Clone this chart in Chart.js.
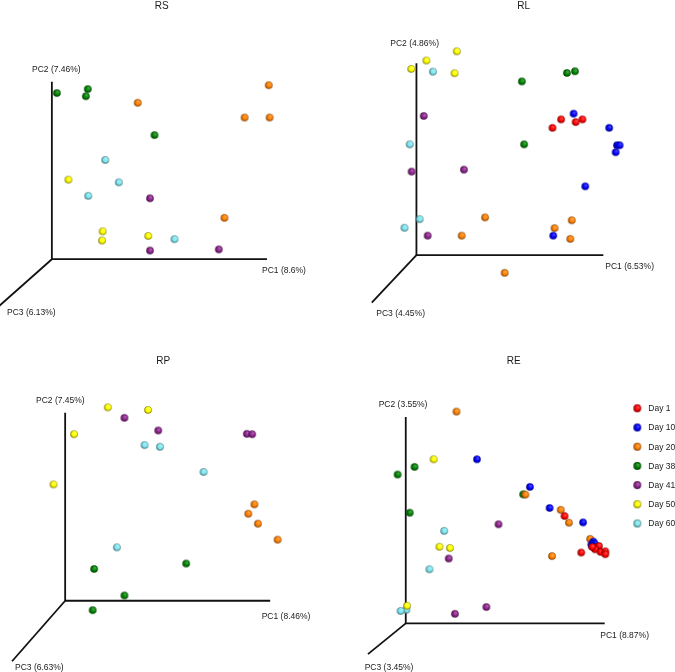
<!DOCTYPE html>
<html>
<head>
<meta charset="utf-8">
<title>PCoA – RS / RL / RP / RE</title>
<script src="https://cdn.jsdelivr.net/npm/chart.js@4"></script>
<style>
  html, body { margin: 0; padding: 0; background: #fff; }
  #wrap { position: relative; width: 675px; height: 672px; overflow: hidden; }
  .panel { position: absolute; }
  .panel canvas { display: block; }
</style>
</head>
<body>
<div id="wrap">
  <div class="panel" style="left:0;top:0;"><canvas id="cRS" width="337" height="336"></canvas></div>
  <div class="panel" style="left:337px;top:0;"><canvas id="cRL" width="338" height="336"></canvas></div>
  <div class="panel" style="left:0;top:336px;"><canvas id="cRP" width="337" height="336"></canvas></div>
  <div class="panel" style="left:337px;top:336px;"><canvas id="cRE" width="338" height="336"></canvas></div>
</div>
<script>
/* ─── Data (PC1 / PC2 projected, axis length = 100) ─────────────── */

const DAYS = ['Day 1', 'Day 10', 'Day 20', 'Day 38', 'Day 41', 'Day 50', 'Day 60'];
const DAY_COLORS = ['#ff0000', '#0000ff', '#ff7f00', '#008000', '#8b228b', '#ffff00', '#7fe6f0'];

const RS_LABELS = ['PC1 (8.6%)', 'PC2 (7.46%)', 'PC3 (6.13%)'];
const RS = {
  'Day 20': [[100.8, 98.0], [39.9, 88.1], [89.6, 79.8], [101.2, 79.8], [80.2, 23.3]],
  'Day 38': [[2.3, 93.6], [16.7, 95.8], [15.8, 91.8], [47.7, 69.9]],
  'Day 41': [[45.6, 34.3], [45.6, 4.9], [77.6, 5.5]],
  'Day 50': [[7.7, 44.8], [23.6, 15.7], [23.3, 10.5], [44.8, 13.1]],
  'Day 60': [[24.8, 55.9], [31.1, 43.3], [16.9, 35.7], [57.0, 11.3]],
};

const RL_LABELS = ['PC1 (6.53%)', 'PC2 (4.86%)', 'PC3 (4.45%)'];
const RL = {
  'Day 1':  [[77.4, 70.7], [72.8, 66.3], [85.2, 69.3], [88.8, 70.7]],
  'Day 10': [[84.1, 73.7], [103.1, 66.3], [107.3, 57.2], [108.7, 57.2], [106.6, 53.6], [90.3, 35.8], [73.2, 10.1]],
  'Day 20': [[36.7, 19.6], [83.1, 18.1], [73.9, 14.0], [24.2, 10.1], [82.3, 8.4], [47.2, -9.3]],
  'Day 38': [[56.4, 90.5], [80.5, 94.9], [84.8, 95.8], [57.6, 57.7]],
  'Day 41': [[3.9, 72.5], [-2.6, 43.5], [25.4, 44.5], [6.0, 10.1]],
  'Day 50': [[21.6, 106.2], [5.3, 101.4], [-2.8, 97.0], [20.4, 94.8]],
  'Day 60': [[8.8, 95.6], [-3.6, 57.7], [1.7, 18.7], [-6.4, 14.2]],
};

const RP_LABELS = ['PC1 (8.46%)', 'PC2 (7.45%)', 'PC3 (6.63%)'];
const RP = {
  'Day 20': [[92.3, 51.3], [89.3, 46.3], [94.0, 41.0], [103.6, 32.5]],
  'Day 38': [[14.1, 16.9], [59.0, 19.8], [28.9, 2.8], [13.4, -5.0]],
  'Day 41': [[28.9, 97.3], [45.4, 90.6], [88.6, 88.8], [91.2, 88.6]],
  'Day 50': [[20.8, 102.9], [40.4, 101.5], [4.3, 88.6], [-5.7, 61.9]],
  'Day 60': [[38.7, 82.8], [46.2, 81.9], [67.5, 68.5], [25.2, 28.4]],
};

const RE_LABELS = ['PC1 (8.87%)', 'PC2 (3.55%)', 'PC3 (3.45%)'];
const RE = {
  'Day 1':  [[79.8, 52.0], [88.2, 34.3], [97.1, 37.5], [95.1, 35.9], [97.9, 34.6], [100.3, 34.9], [100.3, 33.5], [93.7, 37.0]],
  'Day 10': [[35.8, 79.5], [62.4, 66.1], [72.3, 55.9], [89.1, 48.9], [94.3, 39.6], [94.9, 38.6], [93.3, 38.2], [93.8, 37.5]],
  'Day 20': [[25.5, 102.6], [60.1, 62.4], [77.9, 55.0], [82.0, 48.8], [92.7, 40.9], [73.5, 32.6]],
  'Day 38': [[4.4, 75.8], [-4.1, 72.1], [59.0, 62.5], [2.0, 53.6]],
  'Day 41': [[46.6, 48.0], [21.6, 31.4], [40.5, 7.9], [24.7, 4.6]],
  'Day 50': [[14.0, 79.5], [16.9, 37.1], [22.2, 36.5], [0.6, 8.5]],
  'Day 60': [[19.3, 44.8], [11.9, 26.2], [0.3, 6.6], [-2.6, 6.0]],
};

// where the PC3 (depth) axis ends, in the same units
const PC3_END = { RS: [-26, -28], RL: [-23.9, -24.8], RP: [-25.9, -32.2], RE: [-19.0, -14.9] };

/* ─── Layout (pixels inside each panel canvas) ──────────────────── */

const PANELS = [
  { id: 'RS', canvas: 'cRS', data: RS, labels: RS_LABELS,
    origin: [48.3, 262], len: [221.7, 183], title: [161.7, 6],
    labelPos: [[262, 271], [32, 70], [7, 313]] },
  { id: 'RL', canvas: 'cRL', data: RL, labels: RL_LABELS,
    origin: [76.7, 257.7], len: [192.6, 197.7], title: [186.7, 6],
    labelPos: [[268.3, 266.7], [53.3, 43.3], [39.3, 314]] },
  { id: 'RP', canvas: 'cRP', data: RP, labels: RP_LABELS,
    origin: [62, 267.7], len: [211.3, 193.7], title: [163.3, 25],
    labelPos: [[261.7, 281], [36, 65], [15, 331.7]] },
  { id: 'RE', canvas: 'cRE', data: RE, labels: RE_LABELS,
    origin: [65.7, 291], len: [205, 212.7], title: [176.7, 25],
    labelPos: [[263.3, 299.3], [41.7, 69], [27.7, 331.7]], legend: true },
];

const FONT = '"Liberation Sans", Arial, Helvetica, sans-serif';

/* ─── Shaded ball sprites ───────────────────────────────────────── */

function mix(hex, other, t) {
  const a = parseInt(hex.slice(1), 16), b = parseInt(other.slice(1), 16);
  const ch = (v, s) => (v >> s) & 255;
  const m = s => Math.round(ch(a, s) * (1 - t) + ch(b, s) * t);
  return `rgb(${m(16)},${m(8)},${m(0)})`;
}

function ball(color, r) {
  const c = document.createElement('canvas');
  const s = Math.ceil(r * 2 + 2);
  c.width = c.height = s;
  const g = c.getContext('2d');
  const m = s / 2;
  const grad = g.createRadialGradient(m + r * 0.3, m - r * 0.35, 0, m, m, r);
  grad.addColorStop(0, mix(color, '#ffffff', 0.35));
  grad.addColorStop(0.6, color);
  grad.addColorStop(1, mix(color, '#000000', 0.5));
  g.fillStyle = grad;
  g.beginPath();
  g.arc(m, m, r, 0, Math.PI * 2);
  g.fill();
  return c;
}

const BALLS = DAY_COLORS.map(c => ball(c, 3.8));
const LEGEND_BALLS = DAY_COLORS.map(c => ball(c, 3.9));

/* ─── Text / legend overlay ─────────────────────────────────────── */

const overlay = {
  id: 'overlay',
  afterDraw(chart, args, opts) {
    const p = opts.panel;
    const ctx = chart.ctx;
    ctx.save();
    ctx.fillStyle = '#1a1a1a';
    ctx.textBaseline = 'middle';

    ctx.font = `10px ${FONT}`;
    ctx.textAlign = 'center';
    ctx.fillText(p.id, p.title[0], p.title[1]);

    ctx.font = `8.5px ${FONT}`;
    ctx.textAlign = 'left';
    p.labels.forEach((t, i) => ctx.fillText(t, p.labelPos[i][0], p.labelPos[i][1]));

    if (p.legend) {
      DAYS.forEach((d, i) => {
        const y = 72.3 + i * 19.2;
        const img = LEGEND_BALLS[i];
        ctx.drawImage(img, 300.3 - img.width / 2, y - img.height / 2);
        ctx.fillText(d, 311.3, y + 0.5);
      });
    }
    ctx.restore();
  }
};

/* ─── Charts ────────────────────────────────────────────────────── */

function buildPanel(p) {
  const canvas = document.getElementById(p.canvas);
  const W = canvas.width, H = canvas.height;
  const [ox, oy] = p.origin;
  const [lx, ly] = p.len;
  const pc3 = PC3_END[p.id];

  const axisStyle = {
    type: 'line', borderColor: '#111', borderWidth: 1.8, pointRadius: 0,
    showLine: true, fill: false, tension: 0, order: 10, clip: false,
  };

  const datasets = [
    { ...axisStyle, data: [{ x: 0, y: 100 }, { x: 0, y: 0 }, { x: 100, y: 0 }] },
    { ...axisStyle, data: [{ x: 0, y: 0 }, { x: pc3[0], y: pc3[1] }] },
  ];

  DAYS.forEach((d, i) => {
    const pts = p.data[d];
    if (!pts) return;
    datasets.push({
      label: d,
      data: pts.map(([x, y]) => ({ x, y })),
      pointStyle: BALLS[i],
      pointRadius: 4,
      backgroundColor: DAY_COLORS[i],
      order: 1,
      clip: false,
    });
  });

  new Chart(canvas, {
    type: 'scatter',
    data: { datasets },
    options: {
      responsive: false,
      animation: false,
      events: [],
      layout: { padding: 0 },
      scales: {
        x: { type: 'linear', display: false, min: -ox / lx * 100, max: (W - ox) / lx * 100 },
        y: { type: 'linear', display: false, min: -(H - oy) / ly * 100, max: oy / ly * 100 },
      },
      plugins: {
        legend: { display: false },
        tooltip: { enabled: false },
        overlay: { panel: p },
      },
    },
    plugins: [overlay],
  });
}

PANELS.forEach(buildPanel);
</script>
</body>
</html>
